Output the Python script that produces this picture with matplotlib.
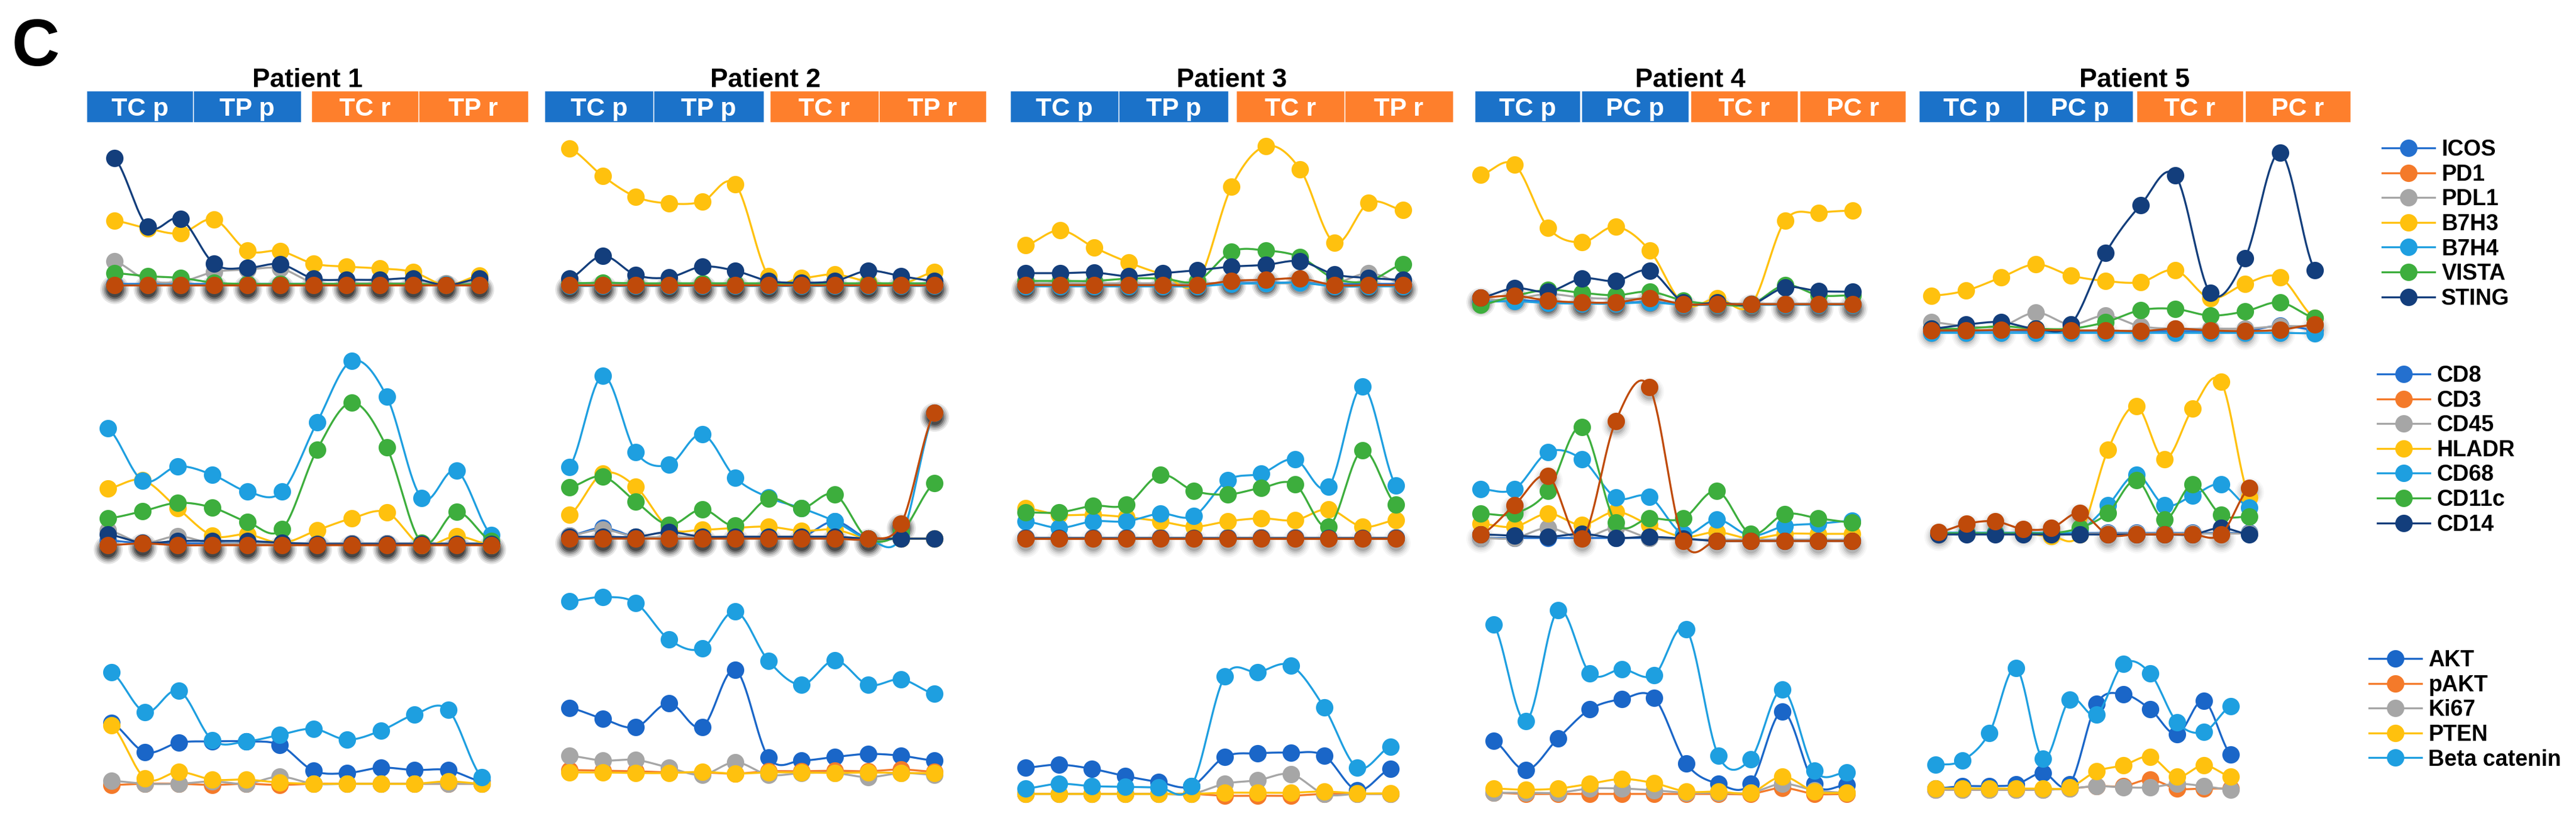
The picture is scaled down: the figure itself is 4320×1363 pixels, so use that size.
import numpy as np
import matplotlib
matplotlib.use("Agg")
import matplotlib.pyplot as plt
from matplotlib.lines import Line2D
from matplotlib.patches import Rectangle
from matplotlib.transforms import ScaledTranslation

plt.rcParams['font.family'] = ['Liberation Sans', 'DejaVu Sans']
plt.rcParams['font.weight'] = 'bold'

W, H = 4320, 1363

# ---------------- data (arbitrary units) ----------------
ROW1_NAMES = ["ICOS", "PD1", "PDL1", "B7H3", "B7H4", "VISTA", "STING"]
ROW2_NAMES = ["CD8", "CD3", "CD45", "HLADR", "CD68", "CD11c", "CD14"]
ROW3_NAMES = ["AKT", "pAKT", "Ki67", "PTEN", "Beta catenin"]

header_labels_tp = ["TC p", "TP p", "TC r", "TP r"]
header_labels_pc = ["TC p", "PC p", "TC r", "PC r"]

p1_top = {
    "ICOS":  [0.2, 0.2, 0.2, 0.2, 0.2, 0.2, 0.2, 0.2, 0.2, 0.2, 0.1, 0.2],
    "PD1":   [0.0, 0.0, 0.0, 0.0, 0.0, 0.0, 0.0, 0.0, 0.0, 0.0, 0.0, 0.0],
    "PDL1":  [4.0, 0.8, 0.6, 2.2, 2.6, 2.8, 0.4, 0.3, 0.3, 0.3, 0.3, 0.4],
    "B7H3":  [10.8, 9.5, 8.7, 11.0, 5.8, 5.7, 3.6, 3.1, 2.8, 2.2, 0.0, 1.6],
    "B7H4":  [0.1, 0.1, 0.1, 0.1, 0.1, 0.1, 0.1, 0.1, 0.1, 0.1, 0.1, 0.1],
    "VISTA": [2.0, 1.5, 1.2, 0.4, 0.2, 0.2, 0.2, 0.2, 0.2, 0.2, 0.0, 0.2],
    "STING": [21.3, 9.8, 11.1, 3.6, 2.9, 3.5, 1.1, 0.9, 0.9, 1.1, 0.0, 1.1],
}
p2_top = {
    "ICOS":  [0.1, 0.1, 0.1, 0.1, 0.1, 0.1, 0.1, 0.1, 0.1, 0.1, 0.1, 0.1],
    "PD1":   [0.0, 0.0, 0.0, 0.0, 0.0, 0.0, 0.0, 0.0, 0.0, 0.0, 0.0, 0.0],
    "PDL1":  [0.1, 0.2, 0.1, 0.1, 0.1, 0.1, 0.1, 0.1, 0.1, 0.1, 0.1, 0.1],
    "B7H3":  [22.9, 18.3, 14.8, 13.7, 14.0, 16.9, 1.5, 1.2, 1.8, 0.6, 0.2, 2.2],
    "B7H4":  [-0.1, -0.1, -0.1, -0.1, -0.1, -0.1, -0.1, -0.1, -0.1, -0.1, -0.1, -0.1],
    "VISTA": [0.3, 0.4, 0.3, 0.3, 0.3, 0.3, 0.3, 0.3, 0.3, 0.3, 0.3, 0.3],
    "STING": [1.1, 4.9, 1.7, 1.3, 3.1, 2.4, 0.7, 0.4, 0.7, 2.4, 1.5, 0.7],
}
p3_top = {
    "ICOS":  [0.2, 0.2, 0.2, 0.2, 0.2, 0.2, 0.4, 0.4, 0.4, 0.2, 0.2, 0.2],
    "PD1":   [0.0, 0.0, 0.0, 0.0, 0.0, 0.0, 0.7, 0.9, 1.1, 0.0, 0.0, 0.0],
    "PDL1":  [0.3, 0.3, 0.3, 0.3, 0.3, 0.3, 0.3, 0.3, 0.3, 0.3, 2.0, 0.3],
    "B7H3":  [6.7, 9.2, 6.3, 3.8, 1.8, 0.4, 16.5, 23.3, 19.4, 7.1, 13.8, 12.6],
    "B7H4":  [-0.2, -0.2, -0.2, -0.2, -0.2, -0.2, 0.2, 0.3, 0.4, -0.2, -0.2, -0.2],
    "VISTA": [0.7, 0.7, 0.7, 1.1, 1.1, 0.7, 5.6, 5.8, 4.7, 1.1, 0.7, 3.5],
    "STING": [2.0, 2.0, 2.1, 1.5, 2.0, 2.5, 3.1, 3.4, 4.0, 1.8, 1.2, 0.9],
}
p4_top = {
    "ICOS":  [0.6, 0.8, 0.5, 0.3, 0.3, 0.5, 0.1, 0.1, 0.1, 0.1, 0.1, 0.1],
    "PD1":   [1.2, 1.5, 0.7, 0.4, 0.4, 1.1, 0.1, 0.1, 0.1, 0.1, 0.1, 0.1],
    "PDL1":  [0.8, 1.0, 1.8, 1.2, 1.0, 1.0, 0.2, 0.2, 0.2, 0.2, 0.2, 0.2],
    "B7H3":  [21.8, 23.5, 12.9, 10.5, 13.1, 9.1, 0.1, 1.1, 0.0, 14.1, 15.4, 15.8],
    "B7H4":  [0.5, 0.6, 0.3, 0.2, 0.2, 0.4, 0.0, 0.0, 0.0, 0.0, 0.0, 0.0],
    "VISTA": [0.0, 1.5, 2.5, 2.0, 1.6, 2.2, 0.7, 0.1, 0.1, 3.3, 1.6, 1.6],
    "STING": [1.2, 2.8, 2.2, 4.4, 4.0, 5.7, 0.4, 0.4, 0.1, 2.9, 2.3, 2.2],
}
p5_top = {
    "ICOS":  [0.1, 0.1, 0.2, 0.1, 0.1, 0.1, 0.1, 0.1, 0.1, 0.1, 1.0, 0.3],
    "PD1":   [0.2, 0.2, 0.3, 0.3, 0.2, 0.2, 0.1, 0.5, 0.2, 0.1, 0.3, 1.2],
    "PDL1":  [1.6, 0.9, 0.9, 3.2, 1.2, 2.7, 0.9, 0.5, 0.5, 0.5, 0.9, 0.9],
    "B7H3":  [6.0, 6.9, 9.1, 11.3, 9.4, 8.5, 8.3, 10.3, 5.6, 8.0, 9.1, 2.3],
    "B7H4":  [-0.2, -0.2, -0.2, -0.2, -0.2, -0.2, -0.2, -0.2, -0.2, -0.2, -0.2, -0.3],
    "VISTA": [0.5, 0.5, 0.9, 0.5, 0.5, 1.6, 3.6, 3.8, 2.7, 3.4, 4.9, 2.3],
    "STING": [0.5, 1.2, 1.6, 0.5, 1.2, 13.2, 21.2, 26.2, 6.5, 12.3, 30.0, 10.3],
}

p1_mid = {
    "CD8":   [0.8, 0.3, 0.3, 0.3, 0.3, 0.3, 0.3, 0.3, 0.3, 0.3, 0.3, 0.3],
    "CD3":   [0.0, 0.3, 0.0, 0.0, 0.0, 0.0, 0.0, 0.0, 0.0, 0.0, 0.0, 0.0],
    "CD45":  [2.5, 0.4, 1.5, 0.3, 0.3, 0.3, 0.3, 0.3, 0.3, 0.3, 0.3, 0.3],
    "HLADR": [9.5, 10.9, 6.2, 1.6, 1.8, 0.4, 2.5, 4.5, 5.5, 0.0, 1.5, 0.0],
    "CD68":  [19.6, 10.8, 13.2, 11.8, 9.0, 9.0, 20.6, 30.9, 24.9, 7.9, 12.5, 1.7],
    "CD11c": [4.5, 5.7, 7.1, 6.3, 3.9, 2.7, 16.0, 23.9, 16.4, 0.4, 5.6, 0.7],
    "CD14":  [1.8, 0.4, 0.7, 0.7, 0.7, 0.4, 0.2, 0.2, 0.2, 0.2, 0.2, 0.2],
}
p2_mid = {
    "CD8":   [0.5, 1.8, 0.3, 0.3, 0.3, 0.3, 0.3, 0.3, 2.9, 0.0, 0.0, 0.0],
    "CD3":   [0.0, 0.0, 0.0, 0.0, 0.0, 0.0, 0.0, 0.0, 0.0, 0.0, 2.5, 21.1],
    "CD45":  [0.5, 1.5, 0.3, 0.3, 0.3, 0.3, 0.3, 0.3, 0.3, 0.0, 0.0, 0.0],
    "HLADR": [4.0, 10.9, 8.7, 1.8, 1.5, 1.8, 2.0, 1.3, 1.5, 0.0, 0.0, 0.0],
    "CD68":  [12.0, 27.3, 14.5, 12.4, 17.5, 10.2, 6.9, 5.1, 2.9, 0.0, 0.3, 21.1],
    "CD11c": [8.6, 10.4, 6.2, 2.3, 4.9, 2.2, 6.7, 5.1, 7.4, 0.0, 1.1, 9.3],
    "CD14":  [0.3, 0.3, 0.3, 1.1, 0.3, 0.3, 0.3, 0.3, 0.3, 0.0, 0.0, 0.0],
}
p3_mid = {
    "CD8":   [0.2, 0.2, 0.2, 0.2, 0.2, 0.2, 0.2, 0.2, 0.2, 0.2, 0.2, 0.2],
    "CD3":   [0.0, 0.0, 0.0, 0.0, 0.0, 0.0, 0.0, 0.0, 0.0, 0.0, 0.0, 0.0],
    "CD45":  [0.2, 0.2, 0.2, 0.2, 0.2, 0.2, 0.2, 0.2, 0.2, 0.2, 0.2, 0.2],
    "HLADR": [5.1, 4.0, 4.0, 3.6, 2.9, 2.0, 2.9, 3.4, 3.1, 4.9, 2.0, 3.1],
    "CD68":  [2.9, 1.8, 2.9, 2.9, 4.2, 3.8, 9.8, 10.9, 13.3, 8.7, 25.5, 8.9],
    "CD11c": [4.4, 4.4, 5.5, 5.7, 10.7, 8.0, 7.4, 8.5, 9.1, 2.0, 14.8, 5.7],
    "CD14":  [0.1, 0.1, 0.1, 0.1, 0.1, 0.1, 0.1, 0.1, 0.1, 0.1, 0.1, 0.1],
}
p4_mid = {
    "CD8":   [0.5, 0.5, 0.5, 0.5, 0.5, 0.5, 0.3, 0.2, 0.2, 0.2, 0.2, 0.2],
    "CD3":   [1.1, 6.0, 10.9, 0.4, 20.1, 25.8, 0.0, 0.0, 0.0, 0.0, 0.0, 0.0],
    "CD45":  [0.5, 0.5, 2.2, 0.5, 2.2, 0.5, 0.3, 0.2, 0.2, 0.2, 0.2, 0.2],
    "HLADR": [2.9, 2.4, 4.6, 2.7, 4.9, 2.7, 0.7, 1.5, 0.4, 1.2, 1.2, 1.2],
    "CD68":  [8.7, 8.7, 14.9, 13.7, 7.3, 7.4, 1.2, 3.6, 0.9, 2.5, 2.9, 3.4],
    "CD11c": [4.6, 4.6, 8.4, 19.1, 3.1, 3.8, 3.8, 8.4, 1.2, 4.5, 3.8, 3.1],
    "CD14":  [1.1, 0.9, 0.7, 1.2, 0.5, 0.7, 0.4, 0.0, 0.0, 0.0, 0.0, 0.0],
}
p5_mid = {
    "CD8":   [0.3, 0.3, 0.3, 0.3, 0.3, 0.3, 0.3, 0.3, 0.3, 0.3, 0.3, 0.3],
    "CD3":   [0.4, 1.8, 2.2, 0.9, 1.1, 3.6, 0.0, 0.0, 0.0, 0.0, 0.0, 7.8],
    "CD45":  [0.2, 0.2, 0.2, 0.2, 0.2, 0.2, 0.2, 0.2, 0.2, 0.2, 0.2, 0.2],
    "HLADR": [0.2, 0.2, 0.2, 0.2, -0.3, 0.0, 14.2, 21.5, 12.6, 21.1, 25.6, 6.2],
    "CD68":  [0.3, 0.3, 0.3, 0.3, 0.3, 0.7, 4.9, 10.0, 4.9, 6.5, 8.4, 4.5],
    "CD11c": [0.2, 0.2, 0.2, 0.2, 0.2, 1.1, 3.6, 9.1, 2.5, 8.4, 3.3, 3.0],
    "CD14":  [0.0, 0.0, 0.0, 0.0, 0.0, 0.0, 0.0, 0.0, 0.0, 0.0, 1.1, 0.0],
}

p1_bot = {
    "AKT":          [10.2, 5.3, 6.9, 7.1, 7.1, 6.5, 2.2, 1.8, 2.7, 2.3, 2.3, 0.4],
    "pAKT":         [-0.2, 0.0, 0.0, -0.2, 0.0, -0.2, 0.0, 0.0, 0.0, 0.0, 0.0, 0.0],
    "Ki67":         [0.5, 0.0, 0.0, 0.4, 0.0, 1.2, 0.0, 0.0, 0.0, 0.0, 0.0, 0.0],
    "PTEN":         [9.8, 0.9, 2.0, 0.7, 0.7, 0.2, 0.0, 0.0, 0.0, 0.0, 0.4, 0.0],
    "Beta catenin": [18.7, 12.0, 15.6, 7.3, 7.1, 8.2, 9.2, 7.4, 8.9, 11.6, 12.4, 1.1],
}
p2_bot = {
    "AKT":          [11.6, 9.8, 8.4, 12.4, 8.4, 18.0, 3.3, 2.8, 3.4, 3.9, 3.6, 2.8],
    "pAKT":         [1.2, 1.1, 1.0, 0.8, 0.8, 0.6, 1.0, 1.0, 1.1, 1.0, 1.3, 0.9],
    "Ki67":         [3.6, 2.8, 2.9, 1.6, 0.4, 2.5, 0.4, 0.7, 0.7, 0.0, 0.7, 0.4],
    "PTEN":         [0.8, 0.8, 0.7, 0.7, 0.9, 0.6, 0.8, 0.8, 0.7, 0.8, 0.7, 0.7],
    "Beta catenin": [29.5, 30.2, 29.2, 23.1, 21.6, 27.8, 19.5, 15.5, 19.6, 15.5, 16.4, 14.0],
}
p3_bot = {
    "AKT":          [4.4, 4.9, 4.2, 3.0, 2.0, 1.3, 6.2, 6.8, 6.9, 6.4, 0.6, 4.2],
    "pAKT":         [0.0, 0.0, 0.0, 0.0, 0.0, 0.0, -0.3, -0.3, -0.3, 0.0, 0.0, 0.0],
    "Ki67":         [0.0, 0.0, 0.0, 0.0, 0.0, 0.0, 1.7, 2.3, 3.3, 0.0, 0.0, 0.0],
    "PTEN":         [0.0, 0.0, 0.0, 0.0, 0.0, 0.0, 0.2, 0.2, 0.2, 0.4, 0.1, 0.1],
    "Beta catenin": [0.9, 1.7, 1.3, 1.2, 1.1, 1.3, 19.7, 20.4, 21.5, 14.5, 4.4, 7.9],
}
p4_bot = {
    "AKT":          [8.9, 4.0, 9.3, 14.2, 15.9, 16.1, 5.1, 1.7, 1.7, 13.8, 1.7, 1.5],
    "pAKT":         [0.2, 0.0, 0.0, 0.0, 0.0, 0.0, 0.0, 0.0, 0.0, 1.0, 0.0, 0.0],
    "Ki67":         [0.2, 0.2, 0.2, 0.9, 0.9, 0.6, 0.2, 0.2, 0.2, 1.7, 0.6, 0.2],
    "PTEN":         [0.9, 0.7, 0.9, 1.7, 2.5, 1.8, 0.4, 0.4, 0.2, 2.9, 0.4, 0.2],
    "Beta catenin": [28.4, 12.2, 30.8, 20.2, 20.9, 19.9, 27.6, 6.4, 5.8, 17.5, 3.9, 3.6],
}
p5_bot = {
    "AKT":          [0.2, 0.6, 0.6, 0.9, 2.8, 0.9, 14.4, 16.0, 13.5, 9.3, 14.9, 5.9],
    "pAKT":         [0.0, 0.0, 0.0, 0.0, 0.0, 0.2, 0.6, 0.6, 1.7, 0.2, 0.2, 0.2],
    "Ki67":         [0.0, 0.0, 0.0, 0.0, 0.0, 0.2, 0.6, 0.4, 0.4, 1.0, 0.6, 0.0],
    "PTEN":         [0.2, 0.2, 0.2, 0.2, 0.2, 0.4, 3.1, 4.1, 5.5, 2.2, 4.1, 2.2],
    "Beta catenin": [4.2, 4.9, 9.5, 20.4, 5.2, 15.1, 12.6, 21.1, 19.5, 11.3, 9.7, 14.0],
}

# ---------------- styling ----------------
BLUE = "#2470CF"
ORANGE = "#F47A2A"
BROWN = "#BF4A0A"
GREY = "#A6A6A6"
YELLOW = "#FFC10E"
LIGHT = "#1E9FE0"
GREEN = "#3DAE3D"
NAVY = "#133E7C"

ROW1_COLORS = [BLUE, ORANGE, GREY, YELLOW, LIGHT, GREEN, NAVY]
ROW2_COLORS = [BLUE, ORANGE, GREY, YELLOW, LIGHT, GREEN, NAVY]
ROW3_COLORS = ["#1A66C8", ORANGE, GREY, YELLOW, LIGHT]

HEAD_BLUE = "#1B72C9"
HEAD_ORANGE = "#FE7F2C"

# panel geometry in figure pixels: (first point x, last point x, baseline y)
LAYOUT = {
    (0, 0): (192, 804, 478), (1, 0): (955, 1567, 478), (2, 0): (1720, 2353, 478),
    (3, 0): (2483, 3107, 511), (4, 0): (3239, 3882, 556),
    (0, 1): (181, 824, 914), (1, 1): (955, 1567, 903), (2, 1): (1720, 2341, 903),
    (3, 1): (2483, 3106, 907), (4, 1): (3251, 3772, 896),
    (0, 2): (187, 808, 1314), (1, 2): (955, 1567, 1303), (2, 2): (1720, 2332, 1331),
    (3, 2): (2505, 3097, 1331), (4, 2): (3246, 3741, 1324),
}
# strength of the soft drop shadow under the bottom (brown) series
SHADOW = {(0, 0): 1.0, (1, 0): 1.0, (2, 0): 0.9, (3, 0): 0.7, (4, 0): 0.3,
          (0, 1): 1.0, (1, 1): 0.95, (2, 1): 0.35, (3, 1): 0.3, (4, 1): 0.3}

HEADERS = [
    [(145, 324), (324, 505), (522, 702), (702, 886)],
    [(913, 1096), (1096, 1281), (1291, 1474), (1474, 1654)],
    [(1694, 1876), (1876, 2060), (2073, 2255), (2255, 2437)],
    [(2473, 2650), (2652, 2832), (2835, 3015), (3018, 3196)],
    [(3218, 3395), (3398, 3577), (3583, 3762), (3765, 3942)],
]

MS = 21
LW = 2.4
PX_PER_UNIT = 10.0


def smooth(y, n=16):
    # Catmull-Rom spline through the points, similar to Excel smoothed lines
    y = np.asarray(y, dtype=float)
    pts = np.concatenate([[y[0]], y, [y[-1]]])
    xs, ys = [], []
    t = np.linspace(0, 1, n, endpoint=False)
    for i in range(len(y) - 1):
        p0, p1, p2, p3 = pts[i], pts[i + 1], pts[i + 2], pts[i + 3]
        seg = 0.5 * ((2 * p1) + (-p0 + p2) * t + (2 * p0 - 5 * p1 + 4 * p2 - p3) * t ** 2
                     + (-p0 + 3 * p1 - 3 * p2 + p3) * t ** 3)
        xs.append(i + t)
        ys.append(seg)
    xs.append([len(y) - 1])
    ys.append([y[-1]])
    return np.concatenate(xs), np.concatenate(ys)


def make_axes(key):
    x_first, x_last, base = LAYOUT[key]
    pad = 30
    top, bottom = base - 330, base + 40
    ax = fig.add_axes([(x_first - pad) / W, 1 - bottom / H,
                       (x_last - x_first + 2 * pad) / W, (bottom - top) / H])
    dx = (x_last - x_first) / 11.0
    ax.set_xlim(-pad / dx, 11 + pad / dx)
    ax.set_ylim(-(bottom - base) / PX_PER_UNIT, (base - top) / PX_PER_UNIT)
    ax.axis("off")
    ax.patch.set_alpha(0)
    return ax


def draw_shadow(ax, x, y, strength):
    # stacked translucent discs shifted down give a soft drop shadow
    down = ax.transData + ScaledTranslation(0, -5 / 72, fig.dpi_scale_trans)
    for grow, a in [(14, 0.10), (10, 0.14), (6, 0.2), (2, 0.3), (-2, 0.35)]:
        ax.plot(x, y, "o", ms=MS + grow, color="black", alpha=a * strength, mew=0,
                transform=down, clip_on=False, zorder=1)


def draw_panel(ax, data, names, colors, base_name=None, shadow=0.0):
    x = np.arange(12)
    order = [n for n in names if n != base_name] + ([base_name] if base_name else [])
    if base_name and shadow > 0:
        draw_shadow(ax, x, data[base_name], shadow)
    for z, name in enumerate(order):
        c = colors[names.index(name)]
        if name == base_name:
            c = BROWN
        xs, ys = smooth(data[name])
        ax.plot(xs, ys, color=c, lw=LW, clip_on=False, zorder=2 + 2 * z)
        ax.plot(x, data[name], "o", ms=MS, color=c, mew=0, clip_on=False,
                zorder=3 + 2 * z)


fig = plt.figure(figsize=(W / 100, H / 100), dpi=100)

rows = [
    ([p1_top, p2_top, p3_top, p4_top, p5_top], ROW1_NAMES, ROW1_COLORS, "PD1"),
    ([p1_mid, p2_mid, p3_mid, p4_mid, p5_mid], ROW2_NAMES, ROW2_COLORS, "CD3"),
    ([p1_bot, p2_bot, p3_bot, p4_bot, p5_bot], ROW3_NAMES, ROW3_COLORS, None),
]
for r, (panels, names, colors, base_name) in enumerate(rows):
    for p, data in enumerate(panels):
        ax = make_axes((p, r))
        draw_panel(ax, data, names, colors, base_name, SHADOW.get((p, r), 0.0))

# headers, titles, panel letter on an overlay in pixel coordinates
over = fig.add_axes([0, 0, 1, 1])
over.set_xlim(0, W)
over.set_ylim(H, 0)
over.axis("off")
over.patch.set_alpha(0)
over.text(20, 110, "C", fontsize=80, fontweight="bold", ha="left", va="baseline")
for p, cells in enumerate(HEADERS):
    labels = header_labels_tp if p < 3 else header_labels_pc
    for k, (x0, x1) in enumerate(cells):
        col = HEAD_BLUE if k < 2 else HEAD_ORANGE
        over.add_patch(Rectangle((x0, 152), x1 - x0, 53, facecolor=col,
                                 edgecolor="white", lw=1.0))
        over.text((x0 + x1) / 2, 194, labels[k], color="white", fontsize=31,
                  fontweight="bold", ha="center", va="baseline")
    cx = (cells[0][0] + cells[-1][1]) / 2
    over.text(cx, 146, "Patient %d" % (p + 1), fontsize=32, fontweight="bold",
              ha="center", va="baseline")


def legend_handles(names, colors):
    return [Line2D([0], [0], color=c, lw=LW, marker="o", ms=MS, mew=0) for c in colors]


legend_specs = [
    (ROW1_NAMES, ROW1_COLORS, 3995, 233),
    (ROW2_NAMES, ROW2_COLORS, 3987, 612),
    (ROW3_NAMES, ROW3_COLORS, 3973, 1089),
]
for names, colors, lx, ly in legend_specs:
    leg = fig.legend(legend_handles(names, colors), names, loc="upper left",
                     bbox_to_anchor=(lx / W, 1 - ly / H), frameon=False,
                     prop={"size": 27, "weight": "bold"}, handlelength=2.35,
                     handletextpad=0.3, labelspacing=0.15, borderpad=0,
                     borderaxespad=0)

fig.savefig("out.png", dpi=100)
